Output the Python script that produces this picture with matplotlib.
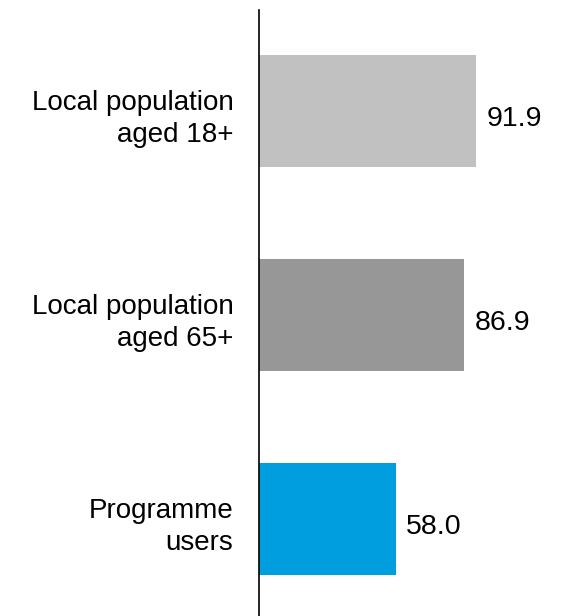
import matplotlib
matplotlib.use("Agg")
import matplotlib.pyplot as plt
from matplotlib.transforms import ScaledTranslation

categories = ["Local population\naged 18+", "Local population\naged 65+", "Programme\nusers"]
values = [91.9, 86.9, 58.0]
colors = ["#C1C1C1", "#979797", "#009DDF"]

plt.rcParams['font.family'] = ['Liberation Sans', 'DejaVu Sans']

fig = plt.figure(figsize=(5.63, 6.16), dpi=100)
W, H = 563, 616
ax = fig.add_axes([259 / W, 0, (W - 259) / W, 1 - 10 / H])
pos = list(range(len(categories)))
ax.barh(pos, values, height=0.55, color=colors)
ax.set_xlim(0, (W - 259) / 2.36)
ax.set_ylim(2.475, -0.495)
for s in ["top", "right", "bottom"]:
    ax.spines[s].set_visible(False)
ax.spines["left"].set_linewidth(1.2)
ax.spines["left"].set_color("black")
ax.set_xticks([])
ax.set_yticks(pos)
ax.set_yticklabels(categories, fontsize=20, ha="right", linespacing=1.3)
ax.tick_params(axis="y", length=0, pad=18.5)
shift = ScaledTranslation(0, -2 / 100, fig.dpi_scale_trans)
for lab in ax.get_yticklabels():
    lab.set_transform(lab.get_transform() + shift)
for p, v in zip(pos, values):
    ax.annotate(f"{v:.1f}", (v, p), xytext=(7.5, -5.5), textcoords="offset points",
                va="center", ha="left", fontsize=20.5)
fig.savefig("out.png", dpi=100)
